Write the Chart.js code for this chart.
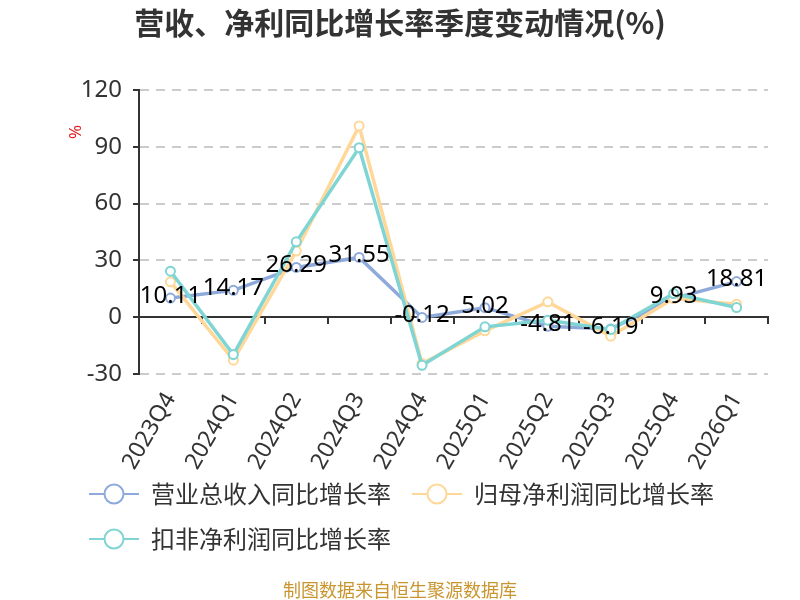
<!DOCTYPE html>
<html><head><meta charset="utf-8">
<script src="https://cdn.jsdelivr.net/npm/chart.js@4.4.1/dist/chart.umd.min.js"></script>
<style>html,body{margin:0;padding:0;background:#fff}#wrap{width:800px;height:600px;position:relative}</style>
</head><body><div id="wrap"><canvas id="c"></canvas></div>
<script>
const titleText = '营收、净利同比增长率季度变动情况(%)';
const footerText = '制图数据来自恒生聚源数据库';
const yUnit = '%';
const categories = ['2023Q4','2024Q1','2024Q2','2024Q3','2024Q4','2025Q1','2025Q2','2025Q3','2025Q4','2026Q1'];
const revenueGrowth = [10.11,14.17,26.29,31.55,-0.12,5.02,-4.81,-6.19,9.93,18.81];
const netProfitGrowth = [18.7,-22.7,34.9,101.0,-24.5,-7.2,8.1,-10.0,9.9,6.9];
const deductedProfitGrowth = [24.3,-19.7,39.8,89.5,-25.4,-5.1,-1.6,-6.5,12.5,5.1];
const yMin = -30, yMax = 120, yStep = 30;
const seriesNames = ['营业总收入同比增长率','归母净利润同比增长率','扣非净利润同比增长率'];
const seriesColors = ['#8EAADB','#FFD899','#7FD4D4'];

const FONT = '"Noto Sans", "Noto Sans CJK SC", sans-serif';
const CJK = '"Noto Sans CJK SC", "Noto Sans", sans-serif';

function legendIcon(color){
  const c = document.createElement('canvas');
  c.width = 50; c.height = 24;
  const g = c.getContext('2d');
  g.strokeStyle = color; g.lineWidth = 2;
  g.beginPath(); g.moveTo(0,12); g.lineTo(50,12); g.stroke();
  g.beginPath(); g.arc(25,12,9.5,0,Math.PI*2); g.fillStyle='#fff'; g.fill(); g.stroke();
  return c;
}
const icons = seriesColors.map(legendIcon);

const extras = {
  id: 'extras',
  afterLayout(chart){
    // let rotated category labels extend below their box (as in the reference)
    chart.scales.x.bottom = chart.height;
  },
  afterDatasetsDraw(chart){
    const ctx = chart.ctx;
    const meta = chart.getDatasetMeta(0);
    ctx.save();
    ctx.font = '24px ' + FONT;
    ctx.fillStyle = '#000';
    ctx.textAlign = 'center';
    ctx.textBaseline = 'middle';
    meta.data.forEach((pt, i) => {
      ctx.fillText(revenueGrowth[i].toFixed(2), pt.x, pt.y - 2);
    });
    ctx.restore();
  },
  afterDraw(chart){
    const ctx = chart.ctx;
    const ys = chart.scales.y;
    ctx.save();
    ctx.textAlign = 'center';
    ctx.textBaseline = 'middle';
    ctx.fillStyle = '#333';
    ctx.font = 'bold 30px ' + CJK;
    ctx.fillText(titleText, chart.width/2, 23);
    ctx.fillStyle = '#C9952E';
    ctx.font = '18px ' + CJK;
    ctx.fillText(footerText, chart.width/2, 590);
    ctx.translate(ys.left + 8, chart.chartArea.top + 42);
    ctx.rotate(-Math.PI/2);
    ctx.fillStyle = '#E0191E';
    ctx.font = '17px ' + FONT;
    ctx.fillText(yUnit, 0, 0);
    ctx.restore();
  }
};

const seriesData = [revenueGrowth, netProfitGrowth, deductedProfitGrowth];
const datasets = seriesData.map((d, i) => ({
  label: seriesNames[i],
  data: d,
  borderColor: seriesColors[i],
  backgroundColor: '#fff',
  pointBackgroundColor: '#fff',
  pointBorderColor: seriesColors[i],
  pointBorderWidth: 2,
  pointRadius: 4.5,
  borderWidth: 3.5,
  tension: 0,
  order: 2 - i,
  xAxisID: 'x'
}));

new Chart(document.getElementById('c'), {
  type: 'line',
  data: { labels: categories, datasets },
  options: {
    responsive: true,
    maintainAspectRatio: false,
    animation: false,
    layout: { padding: { top: 90, left: 68, right: 32, bottom: 39 } },
    plugins: {
      title: { display: false },
      tooltip: { enabled: false },
      legend: {
        position: 'bottom',
        align: 'start',
        labels: {
          usePointStyle: true,
          pointStyleWidth: 50,
          padding: 21,
          color: '#333',
          font: { size: 24, family: CJK },
          sort: (a, b) => a.datasetIndex - b.datasetIndex,
          generateLabels(chart){
            const items = Chart.defaults.plugins.legend.labels.generateLabels(chart);
            items.forEach(it => { it.pointStyle = icons[it.datasetIndex]; it.fontColor = '#333'; });
            return items;
          }
        }
      }
    },
    scales: {
      x: {
        type: 'category',
        offset: true,
        grid: { display: false, drawTicks: false },
        border: { display: false },
        ticks: { minRotation: 60, maxRotation: 60, autoSkip: false, padding: 14, color: '#333', font: { size: 23, family: FONT } },
        afterFit(scale){ scale.height = 87; }
      },
      xZero: {
        type: 'category',
        labels: categories,
        offset: true,
        position: { y: 0 },
        grid: { display: true, drawOnChartArea: false, drawTicks: true, tickLength: 6, offset: true, color: '#333', lineWidth: 2 },
        border: { display: true, color: '#333', width: 2 },
        ticks: { display: false }
      },
      y: {
        min: yMin, max: yMax,
        ticks: { stepSize: yStep, padding: 11, color: '#333', font: { size: 24, family: FONT } },
        grid: { color: '#CCCCCC', lineWidth: 2, tickColor: '#333', tickLength: 6, tickWidth: 2 },
        border: { display: true, color: '#333', width: 2, dash: [9, 7] },
        afterFit(scale){ scale.width = 71; }
      }
    }
  },
  plugins: [extras]
});
</script>
</body></html>
